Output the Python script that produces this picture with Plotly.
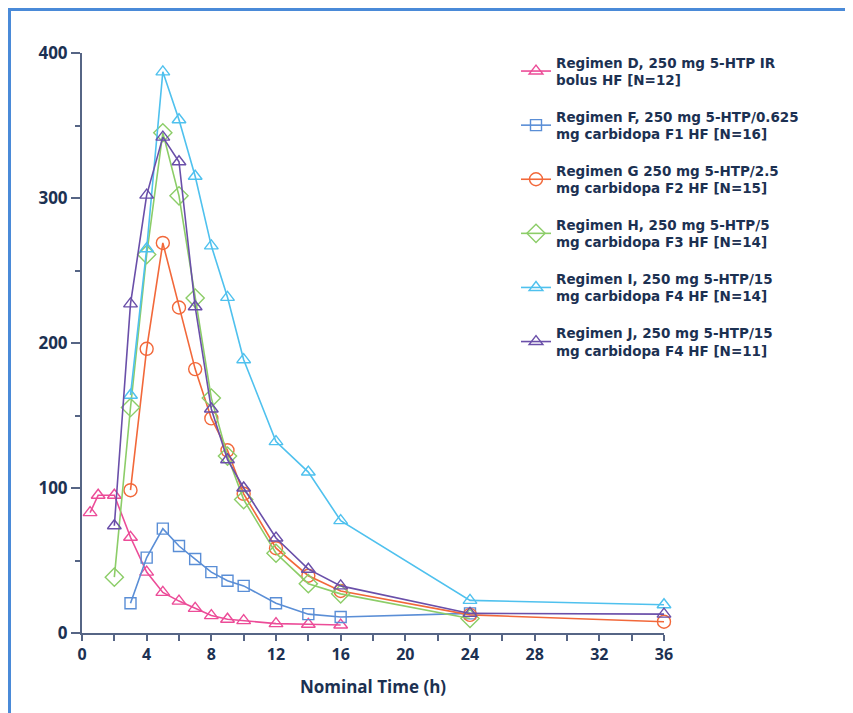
import plotly.graph_objects as go

# ---- data ----
t_D = [0.5, 1, 2, 3, 4, 5, 6, 7, 8, 9, 10, 12, 14, 16]
D = [83, 95, 95, 66, 42, 28, 22, 17, 12, 9.5, 8.5, 6.5, 6, 5.5]

t_F = [3, 4, 5, 6, 7, 8, 9, 10, 12, 14, 16, 24]
F = [20.5, 52, 72, 60, 51, 42, 36, 32.5, 20.5, 13, 11, 13.5]

t_G = [3, 4, 5, 6, 7, 8, 9, 10, 12, 14, 16, 24, 36]
G = [98.5, 196, 269, 224.5, 182, 148, 126, 96, 58.5, 39.5, 29, 12.5, 7.8]

t_H = [2, 3, 4, 5, 6, 7, 8, 9, 10, 12, 14, 16, 24]
H = [38.5, 155.5, 261, 345, 301.5, 231, 162, 122, 92, 55, 34, 27, 10]

t_I = [3, 4, 5, 6, 7, 8, 9, 10, 12, 14, 16, 24, 36]
I = [164, 265, 387, 354, 315, 267, 231.5, 188.5, 132, 111, 77.5, 22.5, 19.5]

t_J = [2, 3, 4, 5, 6, 7, 8, 9, 10, 12, 14, 16, 24, 36]
J = [74, 227, 302, 342, 325, 225, 154.5, 119.5, 100, 65.5, 44, 32.5, 13.5, 13]

names = [
    "Regimen D, 250 mg 5-HTP IR<br>bolus HF [N=12]",
    "Regimen F, 250 mg 5-HTP/0.625<br>mg carbidopa F1 HF [N=16]",
    "Regimen G 250 mg 5-HTP/2.5<br>mg carbidopa F2 HF [N=15]",
    "Regimen H, 250 mg 5-HTP/5<br>mg carbidopa F3 HF [N=14]",
    "Regimen I, 250 mg 5-HTP/15<br>mg carbidopa F4 HF [N=14]",
    "Regimen J, 250 mg 5-HTP/15<br>mg carbidopa F4 HF [N=11]",
]
x_ticks = [0, 4, 8, 12, 16, 20, 24, 28, 32, 36]
y_ticks = [0, 100, 200, 300, 400]

series = [
    (t_D, D, "#ec4c98", "triangle-up-open", 12),
    (t_F, F, "#5a8ed6", "square-open", 11),
    (t_G, G, "#f2683a", "circle-open", 13),
    (t_H, H, "#8ccd68", "diamond-open", 14),
    (t_I, I, "#4fc1ee", "triangle-up-open", 12),
    (t_J, J, "#6a4fa9", "triangle-up-open", 12),
]

NAVY = "#1c3152"
AXC = "#566585"
FONT = "Open Sans"
LEGFONT = "DejaVu Sans"

fig = go.Figure()
for i, ((tx, ty, col, sym, sz), nm) in enumerate(zip(series, names)):
    fig.add_trace(go.Scatter(
        x=tx, y=ty, name=nm, mode="lines+markers",
        line=dict(color=col, width=1.6),
        marker=dict(symbol=sym, size=sz, color=col, line=dict(color=col, width=1.4)),
        cliponaxis=False, legendgroup=str(i),
    ))

# page has an 8px body offset; figure sized so the plot lands where the reference has it
W, Hh = 845, 705
L, R, T, B = 74, 189, 45, 80
pw, ph = W - L - R, Hh - T - B

def px_x(p):  # screenshot x -> paper
    return (p - 8 - L) / pw

def px_y(p):  # screenshot y -> paper
    return (Hh - B - (p - 8)) / ph

fig.update_layout(
    width=W, height=Hh,
    margin=dict(l=L, r=R, t=T, b=B),
    paper_bgcolor="white", plot_bgcolor="white",
    font=dict(family=FONT, color=NAVY, size=15, weight="bold"),
    showlegend=True,
    legend=dict(
        x=px_x(516), y=px_y(47), xanchor="left", yanchor="top",
        font=dict(family=LEGFONT, size=13.5, color=NAVY, weight="bold"),
        tracegroupgap=16, bgcolor="rgba(0,0,0,0)",
    ),
    xaxis=dict(
        range=[0, 36], tickmode="array", tickvals=x_ticks, ticktext=[str(v) for v in x_ticks],
        showline=True, linecolor=AXC, linewidth=2,
        ticks="outside", ticklen=6, tickwidth=1.5, tickcolor=AXC,
        minor=dict(dtick=2, ticks="outside", ticklen=6, tickwidth=1.5, tickcolor=AXC),
        showgrid=False, zeroline=False,
        tickfont=dict(family=FONT, size=16, color=NAVY, weight="bold"),
        title=dict(text="Nominal Time (h)", font=dict(family=FONT, size=17, color=NAVY, weight="bold"), standoff=17),
    ),
    yaxis=dict(
        range=[0, 400], tickmode="array", tickvals=y_ticks, ticktext=[str(v) for v in y_ticks],
        showline=True, linecolor=AXC, linewidth=2,
        ticks="outside", ticklen=9, tickwidth=1.5, tickcolor=AXC,
        minor=dict(dtick=50, ticks="outside", ticklen=5, tickwidth=1.5, tickcolor=AXC),
        showgrid=False, zeroline=False,
        tickfont=dict(family=FONT, size=17, color=NAVY, weight="bold"),
    ),
    shapes=[dict(
        type="rect", xref="paper", yref="paper",
        x0=px_x(9.5), x1=2.0, y0=-1.0, y1=px_y(9.5),
        line=dict(color="#4a8ad8", width=3), fillcolor="rgba(0,0,0,0)",
    )],
)

fig.write_html("out.html")
